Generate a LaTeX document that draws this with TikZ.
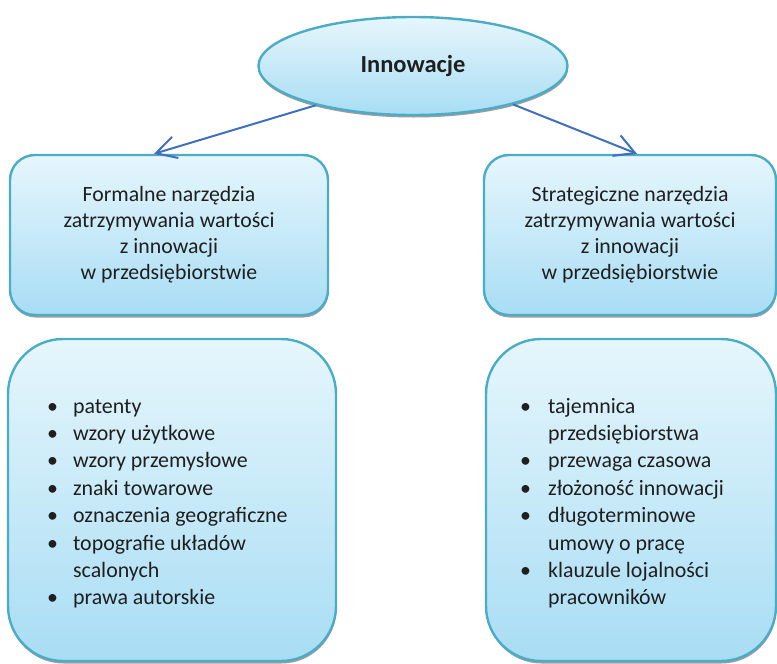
\documentclass[tikz,border=0pt]{standalone}
\usepackage{xcolor}
\usepackage{fontspec}
\setmainfont{Carlito}
\usepackage{tikz}
\usetikzlibrary{arrows.meta,shadows,shapes.geometric}
\definecolor{fillTop}{HTML}{E6F6FC}
\definecolor{fillBottom}{HTML}{A8DDF4}
\definecolor{strokeColor}{HTML}{4BACC6}
\definecolor{arrowColor}{HTML}{3F6FBF}
\colorlet{textColor}{black!88}

\begin{document}
\begin{tikzpicture}[
    x=1pt, y=-1pt,
    blob/.style={
      draw=strokeColor, line width=2.4pt,
      top color=fillTop, bottom color=fillBottom,
      drop shadow={shadow xshift=0.5pt, shadow yshift=-2.5pt, fill=black!55, opacity=0.7},
      text=textColor, inner sep=0pt,
    },
    card/.style={blob, rectangle, rounded corners=25pt, align=center,
      font=\fontsize{21.8}{26}\selectfont},
    bigcard/.style={blob, rectangle, rounded corners=55pt},
    arrowline/.style={draw=arrowColor, line width=2pt,
      -{Straight Barb[length=20pt, width=22pt]}},
  ]
    \useasboundingbox (0, 0) rectangle (777, 664);

    \node[blob, ellipse, minimum width=309pt, minimum height=98pt,
      font=\fontsize{24.5}{28}\selectfont\bfseries] (inno) at (413, 66) {Innowacje};

    \node[card, minimum width=318pt, minimum height=160pt] (formal) at (169, 235)
      {Formalne narzędzia\\zatrzymywania wartości\\z innowacji\\w przedsiębiorstwie};
    \node[card, minimum width=292pt, minimum height=160pt] (strat) at (630, 235)
      {Strategiczne narzędzia\\zatrzymywania wartości\\z innowacji\\w przedsiębiorstwie};

    \node[bigcard, minimum width=328pt, minimum height=322pt] (formalList) at (172, 500) {};
    \node[bigcard, minimum width=290pt, minimum height=322pt] (stratList) at (631, 500) {};

    % bullet lists
    \node[anchor=base west, inner sep=0pt, text=textColor,
      font=\fontsize{21.9}{27.4}\selectfont] (formalItems) at (47, 413) {%
      \begin{tabular}[t]{@{}l@{\hspace{15pt}}l@{}}
        \textbullet & patenty\\
        \textbullet & wzory użytkowe\\
        \textbullet & wzory przemysłowe\\
        \textbullet & znaki towarowe\\
        \textbullet & oznaczenia geograficzne\\
        \textbullet & topografie układów\\
                    & scalonych\\
        \textbullet & prawa autorskie
      \end{tabular}};
    \node[anchor=base west, inner sep=0pt, text=textColor,
      font=\fontsize{21.9}{27.4}\selectfont] (stratItems) at (520, 413) {%
      \begin{tabular}[t]{@{}l@{\hspace{17pt}}l@{}}
        \textbullet & tajemnica\\
                    & przedsiębiorstwa\\
        \textbullet & przewaga czasowa\\
        \textbullet & złożoność innowacji\\
        \textbullet & długoterminowe\\
                    & umowy o pracę\\
        \textbullet & klauzule lojalności\\
                    & pracowników
      \end{tabular}};

    \draw[arrowline] (inno.202) -- ([xshift=-15pt]formal.north);
    \draw[arrowline] (inno.339) -- ([xshift=7pt]strat.north);
\end{tikzpicture}
\end{document}
